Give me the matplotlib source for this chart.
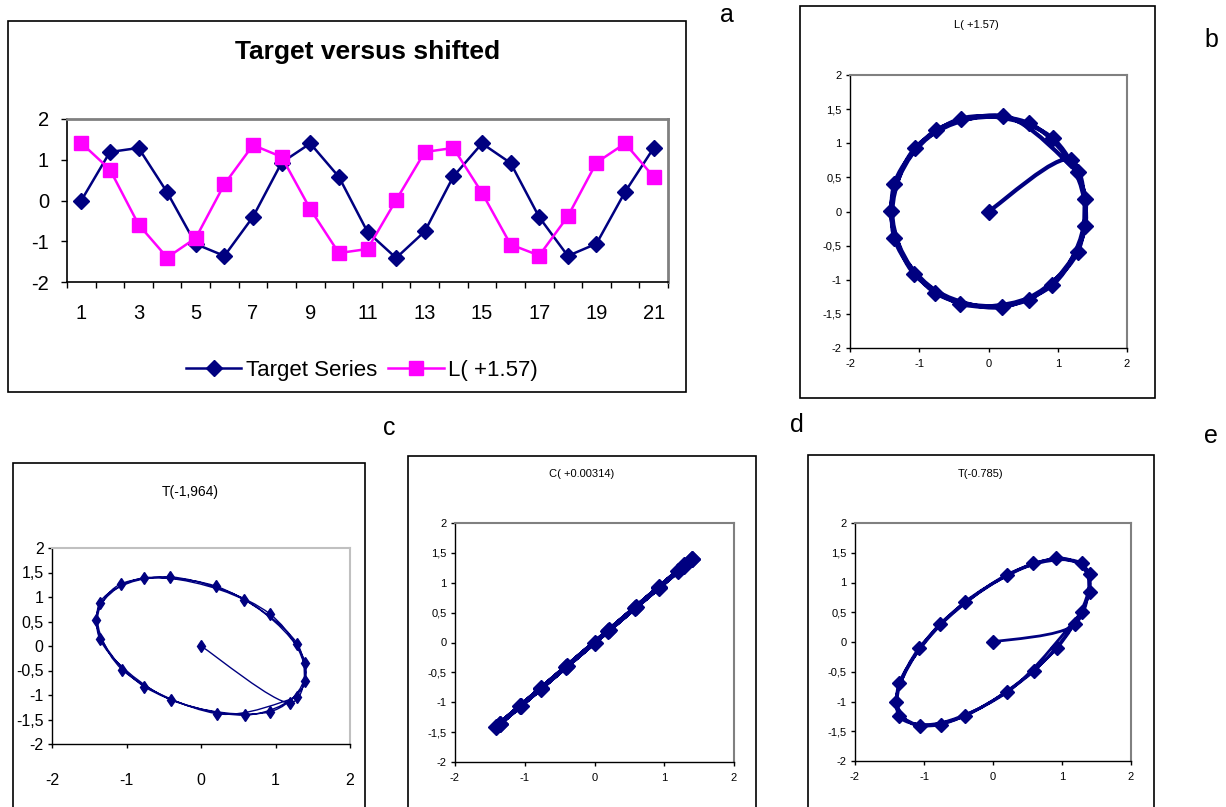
import numpy as np
import matplotlib
matplotlib.use("Agg")
import matplotlib.pyplot as plt
from matplotlib.path import Path
from matplotlib.patches import PathPatch, Rectangle
from matplotlib import font_manager

W, H = 1226, 807
NAVY = "#000080"
MAGENTA = "#FF00FF"
GREY = "#808080"

installed = {f.name for f in font_manager.fontManager.ttflist}
SANS = "Liberation Sans" if "Liberation Sans" in installed else "DejaVu Sans"
NARROW = "Liberation Sans Narrow" if "Liberation Sans Narrow" in installed else SANS
plt.rcParams["font.family"] = [SANS, "DejaVu Sans"]

# panel a: target series and the series shifted by +1.57
steps = list(range(1, 22))
target = [0.00, 1.19, 1.29, 0.20, -1.07, -1.36, -0.40, 0.93, 1.40, 0.58, -0.77,
          -1.41, -0.76, 0.59, 1.40, 0.92, -0.41, -1.36, -1.06, 0.21, 1.29]
shift_l = [1.41, 0.76, -0.59, -1.40, -0.92, 0.40, 1.36, 1.07, -0.21, -1.29, -1.19,
           0.01, 1.19, 1.29, 0.19, -1.08, -1.35, -0.39, 0.93, 1.40, 0.58]

# phase plots: target on x, shifted series on y (first point at the origin)
phase_x = [0.00, 1.19, 1.29, 0.20, -1.07, -1.36, -0.40, 0.93, 1.40, 0.58, -0.77,
           -1.41, -0.76, 0.59, 1.40, 0.92, -0.41, -1.36, -1.06, 0.21, 1.29]
b_y = [0.00, 0.76, -0.59, -1.40, -0.92, 0.40, 1.36, 1.07, -0.21, -1.29, -1.19,
       0.01, 1.19, 1.29, 0.19, -1.08, -1.35, -0.39, 0.93, 1.40, 0.58]
c_y = [0.00, -1.16, 0.05, 1.22, 1.27, 0.15, -1.10, -1.34, -0.35, 0.94, 1.39,
       0.53, -0.83, -1.41, -0.72, 0.66, 1.41, 0.88, -0.48, -1.38, -1.05]
d_y = [0.00, 1.19, 1.28, 0.20, -1.07, -1.36, -0.40, 0.93, 1.40, 0.58, -0.77,
       -1.41, -0.76, 0.59, 1.40, 0.92, -0.41, -1.36, -1.06, 0.21, 1.29]
e_y = [0.00, 0.30, 1.32, 1.13, -0.10, -1.25, -1.24, -0.10, 1.14, 1.32, 0.30,
       -1.01, -1.39, -0.49, 0.84, 1.41, 0.67, -0.69, -1.41, -0.84, 0.51]

phase_xticks = ["-2", "-1", "0", "1", "2"]
phase_yticks = ["-2", "-1,5", "-1", "-0,5", "0", "0,5", "1", "1,5", "2"]


def fig_box(x0, y0, x1, y1):
    return [x0 / W, 1 - y1 / H, (x1 - x0) / W, (y1 - y0) / H]


def frame(x0, y0, x1, y1):
    fig.add_artist(Rectangle((x0 / W, 1 - y1 / H), (x1 - x0) / W, (y1 - y0) / H,
                             transform=fig.transFigure, fill=False,
                             ec="black", lw=1.2))


def smooth_path(xs, ys):
    # Excel-like smoothed line (cardinal bezier through the points)
    pts = np.column_stack([xs, ys]).astype(float)
    n = len(pts)
    verts = [pts[0]]
    codes = [Path.MOVETO]
    for i in range(n - 1):
        p0 = pts[max(i - 1, 0)]
        p1 = pts[i]
        p2 = pts[i + 1]
        p3 = pts[min(i + 2, n - 1)]
        verts += [p1 + (p2 - p0) / 6, p2 - (p3 - p1) / 6, p2]
        codes += [Path.CURVE4] * 3
    return Path(verts, codes)


fig = plt.figure(figsize=(W / 100, H / 100), dpi=100)

# ---------------- panel a ----------------
frame(8, 21, 686, 392)
ax = fig.add_axes(fig_box(67, 119, 668, 282))
ax.plot(steps, target, color=NAVY, lw=1.8, marker="D", ms=8,
        label="Target Series")
ax.plot(steps, shift_l, color=MAGENTA, lw=1.8, marker="s", ms=10.5,
        label="L( +1.57)")
ax.set_xlim(0.5, 21.5)
ax.set_ylim(-2, 2)
ax.set_yticks([-2, -1, 0, 1, 2])
ax.set_yticklabels(["-2", "-1", "0", "1", "2"], fontsize=14.5)
ax.set_xticks(steps[::2])
ax.set_xticklabels([str(s) for s in steps[::2]], fontsize=14.5)
ax.set_xticks(np.arange(0.5, 22, 1), minor=True)
ax.tick_params(axis="x", which="major", length=0, pad=16)
ax.tick_params(axis="x", which="minor", length=4, width=1, direction="out")
ax.tick_params(axis="y", length=4, width=1, direction="out", pad=9)
for s in ("top", "right"):
    ax.spines[s].set_color(GREY)
    ax.spines[s].set_linewidth(2)
for s in ("left", "bottom"):
    ax.spines[s].set_linewidth(1.2)
fig.text(368 / W, 1 - 52 / H, "Target versus shifted", ha="center",
         va="center", fontsize=19, fontweight="bold")
fig.legend(loc="center", bbox_to_anchor=(362 / W, 1 - 370 / H), ncol=2,
           frameon=False, fontsize=16, handlelength=2.5, handletextpad=0.2,
           columnspacing=0.5)

# ---------------- phase panels ----------------
panels = [
    # frame, axes box, title, title pos, y data, marker, ms, lw, font, tick size, x pad
    ((800, 6, 1155, 398), (850, 75, 1127, 348), "L( +1.57)", (976, 25), b_y,
     "D", 8, 3.0, SANS, 8, 5),
    ((13, 463, 365, 820), (52, 548, 350, 744), "T(-1,964)", (190, 492), c_y,
     "d", 6, 1.0, NARROW, 11.5, 18),
    ((408, 456, 756, 820), (455, 523, 734, 762), "C( +0.00314)", (582, 474), d_y,
     "D", 8.5, 3.2, SANS, 8, 5),
    ((808, 455, 1154, 820), (855, 523, 1131, 761), "T(-0.785)", (981, 474), e_y,
     "D", 7.5, 2.0, SANS, 8, 5),
]

for fr, box, title, tpos, ys, mk, ms, lw, font, fs, xpad in panels:
    frame(*fr)
    ax = fig.add_axes(fig_box(*box))
    ax.add_patch(PathPatch(smooth_path(phase_x, ys), fill=False, ec=NAVY,
                           lw=lw, joinstyle="round"))
    ax.plot(phase_x, ys, ls="none", marker=mk, ms=ms, color=NAVY)
    ax.set_xlim(-2, 2)
    ax.set_ylim(-2, 2)
    ax.set_xticks(np.arange(-2, 2.01, 1))
    ax.set_xticklabels(phase_xticks, fontsize=fs, family=font)
    ax.set_yticks(np.arange(-2, 2.01, 0.5))
    ax.set_yticklabels(phase_yticks, fontsize=fs, family=font)
    ax.tick_params(axis="x", length=3, width=1, direction="out", pad=xpad)
    ax.tick_params(axis="y", length=3, width=1, direction="out", pad=3)
    top_col = "#c0c0c0" if mk == "d" else GREY
    for s in ("top", "right"):
        ax.spines[s].set_color(top_col)
        ax.spines[s].set_linewidth(1.5)
    for s in ("left", "bottom"):
        ax.spines[s].set_linewidth(1.0)
    fig.text(tpos[0] / W, 1 - tpos[1] / H, title, ha="center", va="center",
             fontsize=8 if mk == "D" else 10,
             family=font)

# panel letters
for letter, (lx, ly) in {"a": (727, 15), "b": (1211, 40), "c": (389, 428),
                         "d": (797, 425), "e": (1211, 436)}.items():
    fig.text(lx / W, 1 - ly / H, letter, ha="center", va="center", fontsize=18)

fig.savefig("out.png", dpi=100)
